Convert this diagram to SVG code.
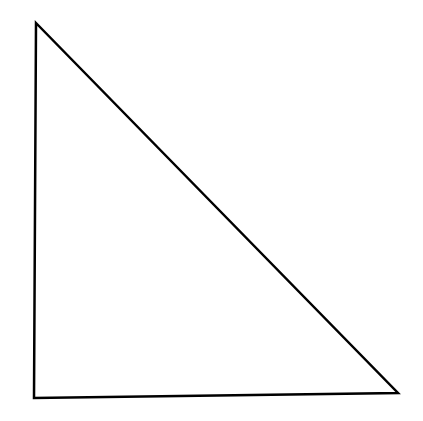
<svg xmlns="http://www.w3.org/2000/svg" width="423" height="421" viewBox="0 0 423 421">
<style>.tri{fill:none;stroke:#000;stroke-width:2.5;stroke-linejoin:miter;stroke-miterlimit:10}</style>
<rect width="423" height="421" fill="#fff"/>
<g id="triangle">
<polygon class="tri" points="36,23 398,393 34,398"/>
</g>
</svg>
